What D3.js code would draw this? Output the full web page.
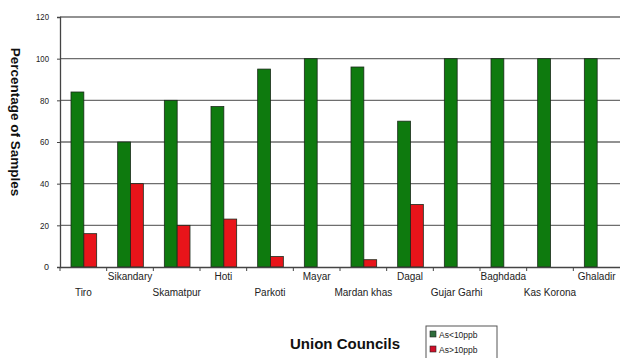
<!DOCTYPE html>
<html>
<head>
<meta charset="utf-8">
<script src="https://cdn.jsdelivr.net/npm/d3@7"></script>
<style>
  body { margin: 0; background: #fff; }
  svg { display: block; font-family: Arial, "Liberation Sans", sans-serif; }
</style>
</head>
<body>
<div id="chart"></div>
<script>
const councils = ["Tiro", "Sikandary", "Skamatpur", "Hoti", "Parkoti", "Mayar",
    "Mardan khas", "Dagal", "Gujar Garhi", "Baghdada", "Kas Korona", "Ghaladir"];
const below10 = [84, 60, 80, 77, 95, 100, 96, 70, 100, 100, 100, 100];
const above10 = [16, 40, 20, 23, 5, 0, 3.5, 30, 0, 0, 0, 0];
const seriesNames = ["As<10ppb", "As>10ppb"];
const seriesColors = ["#0e7a0e", "#e8141a"];
const yTicks = [0, 20, 40, 60, 80, 100, 120];

const W = 620, H = 358;
const margin = { top: 17, right: 0, bottom: 91, left: 60 };
const width = W - margin.left - margin.right;
const height = H - margin.top - margin.bottom;

const svg = d3.select("#chart").append("svg")
    .attr("width", W)
    .attr("height", H);

const g = svg.append("g")
    .attr("transform", `translate(${margin.left},${margin.top})`);

const data = councils.map((c, i) => ({ council: c, values: [below10[i], above10[i]] }));

const x = d3.scaleBand()
    .domain(councils)
    .range([0, width])
    .paddingInner(0)
    .paddingOuter(0);

const xInner = d3.scaleBand()
    .domain([0, 1])
    .range([11, x.bandwidth() - 10])
    .padding(0);

const y = d3.scaleLinear()
    .domain([0, 120])
    .range([height, 0]);

// gridlines
g.append("g")
    .selectAll("line")
    .data(yTicks.filter(t => t > 0))
    .join("line")
    .attr("x1", 0)
    .attr("x2", width)
    .attr("y1", d => y(d))
    .attr("y2", d => y(d))
    .attr("stroke", "#6e6e6e")
    .attr("stroke-width", 1.3);

// bars
const groups = g.selectAll(".grp")
    .data(data)
    .join("g")
    .attr("class", "grp")
    .attr("transform", d => `translate(${x(d.council)},0)`);

groups.selectAll("rect")
    .data(d => d.values.map((v, k) => ({ v, k })).filter(e => e.v > 0))
    .join("rect")
    .attr("x", d => xInner(d.k))
    .attr("y", d => y(d.v))
    .attr("width", xInner.bandwidth())
    .attr("height", d => height - y(d.v))
    .attr("fill", d => seriesColors[d.k])
    .attr("stroke", "#1a2a1a")
    .attr("stroke-width", 0.8);

// y axis
const yAxis = g.append("g")
    .call(d3.axisLeft(y).tickValues(yTicks).tickSize(3).tickPadding(8));
yAxis.select(".domain").attr("stroke", "#444").attr("stroke-width", 1.3);
yAxis.selectAll(".tick line").attr("stroke", "#444");
yAxis.selectAll("text")
    .style("font-size", "9px")
    .attr("fill", "#222")
    .attr("textLength", d => d >= 100 ? 13 : d > 0 ? 9 : 5)
    .attr("lengthAdjust", "spacingAndGlyphs");

// x axis
const xAxis = g.append("g")
    .attr("transform", `translate(0,${height})`)
    .call(d3.axisBottom(x).tickSize(0).tickFormat(""));
xAxis.select(".domain").attr("stroke", "#444").attr("stroke-width", 1.3);

// category boundary ticks
g.append("g")
    .selectAll("line")
    .data(councils)
    .join("line")
    .attr("x1", d => x(d))
    .attr("x2", d => x(d))
    .attr("y1", height)
    .attr("y2", height + 4)
    .attr("stroke", "#444");

// staggered category labels
g.append("g")
    .selectAll("text")
    .data(councils)
    .join("text")
    .attr("x", d => x(d) + x.bandwidth() / 2)
    .attr("y", (d, i) => height + (i % 2 === 1 ? 13 : 29))
    .attr("text-anchor", "middle")
    .style("font-size", "10px")
    .attr("fill", "#222")
    .text(d => d);

// axis titles
svg.append("text")
    .attr("transform", "translate(11,122) rotate(90)")
    .attr("text-anchor", "middle")
    .style("font-size", "13.5px")
    .style("font-weight", "bold")
    .attr("fill", "#111")
    .text("Percentage of Samples");

svg.append("text")
    .attr("x", 345)
    .attr("y", 349)
    .attr("text-anchor", "middle")
    .style("font-size", "15px")
    .style("font-weight", "bold")
    .attr("fill", "#111")
    .text("Union Councils");

// legend
const legend = svg.append("g")
    .attr("transform", "translate(426,326)");

legend.append("rect")
    .attr("width", 71)
    .attr("height", 40)
    .attr("fill", "#fff")
    .attr("stroke", "#555");

seriesNames.forEach((name, i) => {
    legend.append("rect")
        .attr("x", 4)
        .attr("y", 5 + i * 15)
        .attr("width", 6)
        .attr("height", 6)
        .attr("fill", i === 0 ? "#2e6b3a" : "#d0102a")
        .attr("stroke", "#222")
        .attr("stroke-width", 0.6);
    legend.append("text")
        .attr("x", 13)
        .attr("y", 12 + i * 15)
        .style("font-size", "8.5px")
        .attr("fill", "#222")
        .text(name);
});
</script>
</body>
</html>
